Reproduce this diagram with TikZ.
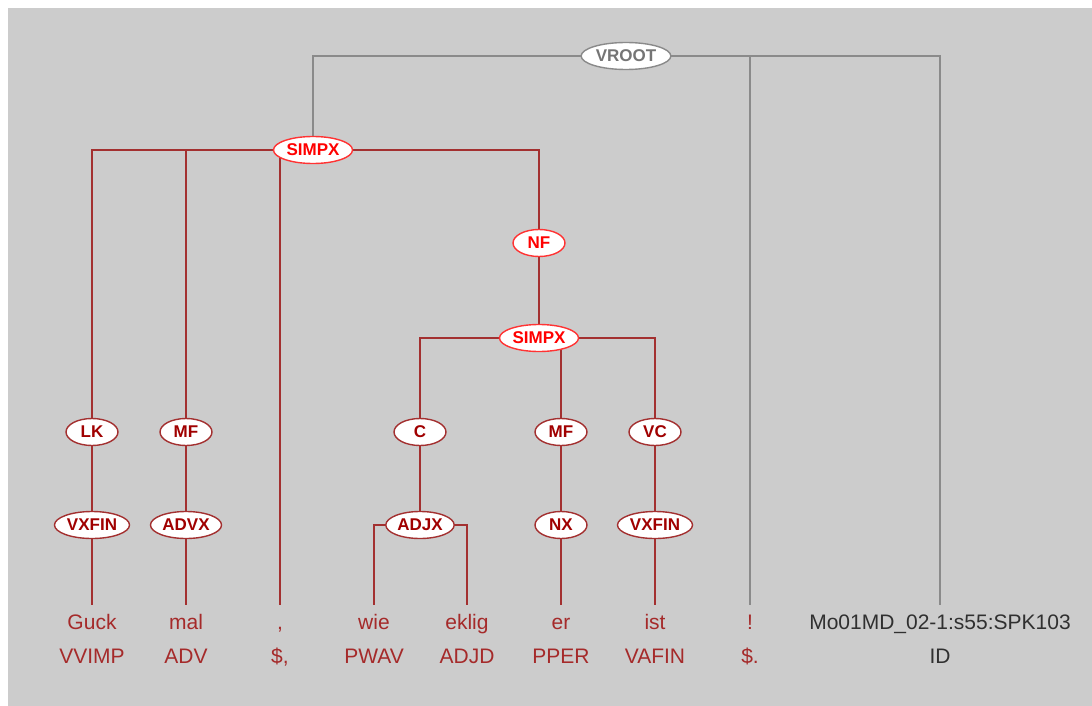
\documentclass[tikz,border=0pt]{standalone}
\usepackage{fontspec}
\setmainfont{Liberation Sans}
\usetikzlibrary{shapes.geometric,backgrounds}

\definecolor{panel}{HTML}{CCCCCC}
\definecolor{catred}{HTML}{A00000}
\definecolor{hotred}{HTML}{FF0000}
\definecolor{edgered}{HTML}{A33030}
\definecolor{leafred}{HTML}{A52A2A}
\definecolor{rootgray}{HTML}{8A8A8A}
\definecolor{idgray}{HTML}{303030}

\begin{document}
\begin{tikzpicture}[x=1pt, y=-1pt,
    cat/.style={ellipse, draw=edgered, fill=white, text=catred, line width=1.4pt,
        inner xsep=1.5pt, inner ysep=0pt, minimum height=27pt, minimum width=52pt,
        font=\fontsize{17}{19}\selectfont\bfseries},
    hot/.style={cat, draw=hotred!80, text=hotred},
    top/.style={cat, draw=rootgray, text=rootgray!85!black},
    leaf/.style={inner xsep=2pt, inner ysep=0pt, text height=15pt, text depth=4pt,
        outer ysep=9pt, anchor=base, font=\fontsize{21}{23}\selectfont},
    tree/.style={edgered, line width=1.3pt},
    rootedge/.style={rootgray, line width=1.6pt}]
    \useasboundingbox (0,0) rectangle (1092,706);

    % inner nodes
    \node[top] (vroot) at (626,56) {VROOT};
    \node[hot] (simpx) at (313,150) {SIMPX};
    \node[hot] (nf) at (539,243) {NF};
    \node[hot] (simpxb) at (539,338) {SIMPX};
    \node[cat] (lk) at (92,432) {LK};
    \node[cat] (mf) at (186,432) {MF};
    \node[cat] (c) at (420,432) {C};
    \node[cat] (mfb) at (561,432) {MF};
    \node[cat] (vc) at (655,432) {VC};
    \node[cat] (vxfin) at (92,525) {VXFIN};
    \node[cat] (advx) at (186,525) {ADVX};
    \node[cat] (adjx) at (420,525) {ADJX};
    \node[cat] (nx) at (561,525) {NX};
    \node[cat] (vxfinb) at (655,525) {VXFIN};

    % words and tags
    \foreach \i/\x/\w/\t/\c in {1/92/Guck/VVIMP/leafred, 2/186/mal/ADV/leafred,
        3/280/{,}/{\$,}/leafred, 4/374/wie/PWAV/leafred, 5/467/eklig/ADJD/leafred,
        6/561/er/PPER/leafred, 7/655/ist/VAFIN/leafred, 8/750/!/\$./leafred,
        9/940/Mo01MD\_02-1:s55:SPK103/ID/idgray} {
        \node[leaf, text=\c] (w\i) at (\x,629) {\w};
        \node[leaf, text=\c] (t\i) at (\x,663) {\t};
    }

    \begin{scope}[on background layer]
        \fill[panel] (8,8) rectangle (1092,706);
        \draw[rootedge] (vroot.center) -| (simpx.center);
        \draw[rootedge] (vroot.center) -| (w8.north);
        \draw[rootedge] (vroot.center) -| (w9.north);
        \draw[tree] (simpx.center) -| (lk.center);
        \draw[tree] (simpx.center) -| (mf.center);
        \draw[tree] (simpx.center) -| (w3.north);
        \draw[tree] (simpx.center) -| (nf.center);
        \draw[tree] (lk) -- (vxfin) -- (w1.north);
        \draw[tree] (mf) -- (advx) -- (w2.north);
        \draw[tree] (nf) -- (simpxb);
        \draw[tree] (simpxb.center) -| (c.center);
        \draw[tree] (simpxb.center) -| (mfb.center);
        \draw[tree] (simpxb.center) -| (vc.center);
        \draw[tree] (c) -- (adjx);
        \draw[tree] (adjx.center) -| (w4.north);
        \draw[tree] (adjx.center) -| (w5.north);
        \draw[tree] (mfb) -- (nx) -- (w6.north);
        \draw[tree] (vc) -- (vxfinb) -- (w7.north);
    \end{scope}
\end{tikzpicture}
\end{document}
